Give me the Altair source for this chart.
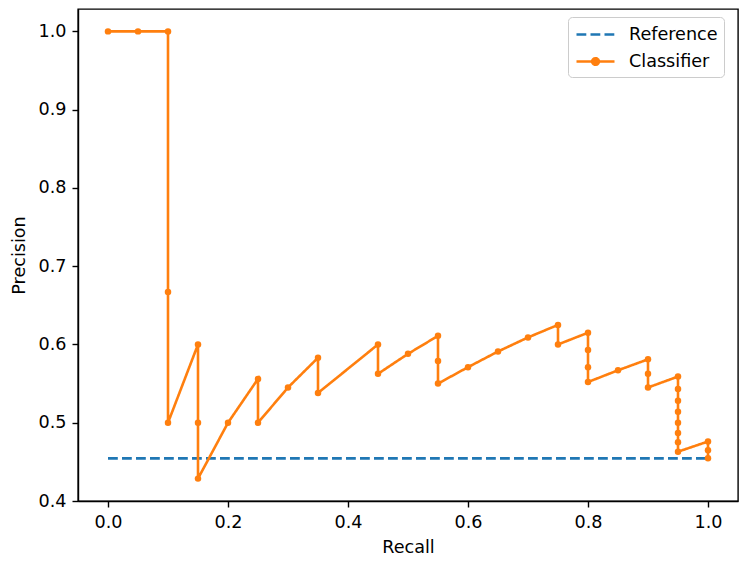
import altair as alt
import pandas as pd

recall = [0.0, 0.05, 0.1, 0.1, 0.1, 0.15, 0.15, 0.15, 0.2, 0.25, 0.25, 0.3,
          0.35, 0.35, 0.45, 0.45, 0.5, 0.55, 0.55, 0.55, 0.6, 0.65, 0.7,
          0.75, 0.75, 0.8, 0.8, 0.8, 0.8, 0.85, 0.9, 0.9, 0.9,
          0.95, 0.95, 0.95, 0.95, 0.95, 0.95, 0.95, 0.95, 1.0, 1.0, 1.0]
precision = [1.0, 1.0, 1.0, 0.667, 0.5, 0.6, 0.5, 0.4286, 0.5, 0.556, 0.5, 0.545,
             0.583, 0.538, 0.6, 0.5625, 0.588, 0.611, 0.579, 0.55, 0.571, 0.591, 0.609,
             0.625, 0.6, 0.615, 0.593, 0.571, 0.552, 0.567, 0.581, 0.5625, 0.545,
             0.559, 0.543, 0.528, 0.514, 0.5, 0.487, 0.475, 0.463, 0.476, 0.465, 0.4545]
ref_recall = [0.0, 1.0]
ref_precision = [0.4545, 0.4545]
series_names = ["Reference", "Classifier"]
series_colors = ["#1f77b4", "#ff7f0e"]
x_ticks = [0.0, 0.2, 0.4, 0.6, 0.8, 1.0]
y_ticks = [0.4, 0.5, 0.6, 0.7, 0.8, 0.9, 1.0]

rows = []
for i, (r, p) in enumerate(zip(ref_recall, ref_precision)):
    rows.append({"series": "Reference", "recall": r, "precision": p, "idx": i})
for i, (r, p) in enumerate(zip(recall, precision)):
    rows.append({"series": "Classifier", "recall": r, "precision": p, "idx": i})
df = pd.DataFrame(rows)

FONT = "DejaVu Sans"
FS = 17.6
xscale = alt.Scale(domain=[-0.05, 1.05], nice=False, zero=False)
yscale = alt.Scale(domain=[0.4, 1.0286], nice=False, zero=False)
xaxis = alt.Axis(values=x_ticks, format=".1f", title="Recall", grid=False)
yaxis = alt.Axis(values=y_ticks, format=".1f", title="Precision", grid=False)

sym_expr = ("datum.value === 'Classifier' ? "
            "'M-1.9,0L1.9,0M0.33,0A0.33,0.33,0,1,1,-0.33,0A0.33,0.33,0,1,1,0.33,0Z' : "
            "'M-1.9,0L1.9,0'")

legend = alt.Legend(
    title=None, orient="none", legendX=490, legendY=8,
    symbolType={"expr": sym_expr}, symbolSize=400, symbolStrokeWidth=2.6,
    symbolFillColor="#ff7f0e", symbolOffset=10,
    labelFont=FONT, labelFontSize=FS, labelColor="black", labelOffset=22,
    rowPadding=6, padding=6,
    strokeColor="#cccccc", fillColor="rgba(255,255,255,0.8)", cornerRadius=4,
)

lines = alt.Chart(df).mark_line(strokeWidth=2.6).encode(
    x=alt.X("recall:Q", scale=xscale, axis=xaxis),
    y=alt.Y("precision:Q", scale=yscale, axis=yaxis),
    color=alt.Color("series:N", scale=alt.Scale(domain=series_names, range=series_colors), legend=legend),
    strokeDash=alt.StrokeDash("series:N", scale=alt.Scale(domain=series_names, range=[[9.8, 4.2], [1, 0]]), legend=legend),
    order="idx:Q",
)

points = alt.Chart(df[df.series == "Classifier"]).mark_point(filled=True, size=42, opacity=1).encode(
    x=alt.X("recall:Q", scale=xscale, axis=xaxis),
    y=alt.Y("precision:Q", scale=yscale, axis=yaxis),
    color=alt.value("#ff7f0e"),
)

chart = alt.layer(lines, points).properties(
    width=660, height=492,
    autosize=alt.AutoSizeParams(type="none"),
    padding={"left": 78, "top": 9, "right": 7, "bottom": 63},
).configure_view(stroke="black", strokeWidth=1.4).configure_axis(
    domainColor="black", domainWidth=1.4, tickColor="black", tickWidth=1.4, tickSize=6,
    labelFont=FONT, labelFontSize=FS, labelColor="black", labelPadding=6,
    titleFont=FONT, titleFontSize=FS, titleColor="black", titleFontWeight="normal",
).configure_axisX(titlePadding=8).configure_axisY(titlePadding=10)

chart.save("out.html", embed_options={"renderer": "svg", "actions": False})
